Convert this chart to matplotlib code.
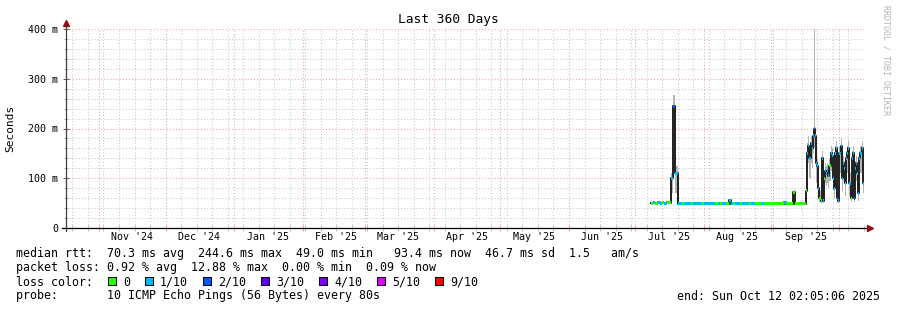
import datetime as dt
import numpy as np
import pandas as pd
import matplotlib
matplotlib.use('Agg')
import matplotlib.pyplot as plt
import matplotlib.dates as mdates
from matplotlib.ticker import MultipleLocator, FuncFormatter
from matplotlib.patches import Rectangle
from matplotlib.transforms import blended_transform_factory

#####################
# Data
#####################
start = dt.datetime(2024, 10, 17, 2, 5, 6)
end = dt.datetime(2025, 10, 12, 2, 5, 6)

# daily values Jul 8 .. Sep 15 2025 (ms)
days1 = pd.date_range('2025-07-08', periods=70, freq='D')
med1 = [50, 51, 50, 52, 50, 51, 50, 52, 51, 100, 245, 110, 49,
        49, 49, 49, 49.5, 49, 49, 49, 49, 49.5, 49, 49, 49, 49, 49, 49, 49.5, 49, 49, 49, 49, 49, 49,
        56,
        49, 49, 49, 49, 49.5, 49, 49, 49, 49, 49, 49, 49, 49, 49.5, 49, 49, 49, 49, 49, 49, 49, 49, 49, 49,
        52, 49, 49, 49, 72, 49, 49, 49, 49, 49]
hi1 = [51, 52, 51, 53, 51, 52, 51, 53, 52, 110, 267, 125, 50,
       50, 50, 50, 51, 50, 50, 50, 50, 51, 50, 50, 50, 50, 50, 50, 51, 50, 50, 50, 50, 50, 50,
       59,
       50, 50, 50, 50, 51, 50, 50, 50, 50, 50, 50, 50, 50, 51, 50, 50, 50, 50, 50, 50, 50, 50, 50, 50,
       54, 50, 50, 50, 76, 50, 50, 50, 50, 50]
lo1 = [49, 50, 49, 50, 49, 50, 49, 50, 50, 70, 180, 70, 48.5,
       48.5, 48.5, 48.5, 48.5, 48.5, 48.5, 48.5, 48.5, 48.5, 48.5, 48.5, 48.5, 48.5, 48.5, 48.5,
       48.5, 48.5, 48.5, 48.5, 48.5, 48.5, 48.5,
       52,
       48.5, 48.5, 48.5, 48.5, 48.5, 48.5, 48.5, 48.5, 48.5, 48.5, 48.5, 48.5, 48.5, 48.5, 48.5,
       48.5, 48.5, 48.5, 48.5, 48.5, 48.5, 48.5, 48.5, 48.5,
       50, 48.5, 48.5, 48.5, 60, 48.5, 48.5, 48.5, 48.5, 48.5]
loss1 = [0, 1, 0, 1, 1, 0, 1, 0, 0,
         1, 2, 1,
         1, 1, 0, 1, 1, 1, 0, 1, 1, 1, 1, 0, 1, 1, 1, 1, 1,
         0, 1, 0, 1, 1, 0, 1, 1, 0, 1, 1, 0, 1, 1, 1, 0,
         1, 1, 0, 0, 0, 1, 0, 0, 0, 0, 0, 0, 0, 0, 0, 1, 0, 0, 0, 0, 0, 0, 0, 0, 0]

# 12 hourly values Sep 16 .. Oct 12 2025 (ms)
days2 = pd.date_range('2025-09-16', periods=53, freq='12h')
med2 = [75, 150, 165, 140, 170, 160, 185, 200, 185, 130, 125, 80, 60, 55, 140, 55, 100, 115,
        110, 115, 105, 125, 150, 145, 100, 80, 150, 160, 60, 55, 150, 165, 100, 130, 120, 90,
        140, 150, 160, 90, 60, 140, 150, 60, 120, 130, 110, 70, 140, 150, 160, 90, 93.4]
hi2 = [95, 170, 185, 165, 185, 180, 200, 420, 200, 150, 140, 100, 75, 65, 155, 70, 115, 130,
       125, 130, 120, 140, 165, 160, 120, 100, 165, 175, 80, 70, 165, 180, 120, 145, 135, 110,
       155, 165, 175, 110, 80, 155, 165, 80, 135, 145, 130, 90, 155, 165, 175, 105, 100]
lo2 = [55, 110, 130, 100, 130, 120, 150, 160, 140, 90, 95, 60, 52, 50, 100, 50, 75, 90,
       85, 90, 80, 95, 115, 110, 75, 60, 110, 120, 52, 50, 110, 125, 75, 95, 90, 65,
       100, 110, 120, 65, 52, 100, 110, 52, 85, 95, 80, 55, 100, 110, 120, 70, 75]
loss2 = [0, 1, 1, 1, 1, 1, 1, 2, 1, 1, 1, 1, 0, 0, 1, 1, 0, 1, 1, 1, 1, 0, 1, 1, 1, 1, 1,
         1, 2, 1, 1, 1, 1, 1, 1, 1, 1, 1, 1, 1, 0, 1, 1, 2, 1, 1, 1, 1, 1, 1, 1, 1, 1]

loss_labels = ['0', '1/10', '2/10', '3/10', '4/10', '5/10', '9/10']
loss_colors = ['#26ff00', '#00b8ff', '#0059ff', '#5e00ff', '#7e00ff', '#dd00ff', '#ff0000']

stats_lines = [
    "median rtt:  70.3 ms avg  244.6 ms max  49.0 ms min   93.4 ms now  46.7 ms sd  1.5   am/s",
    "packet loss: 0.92 % avg  12.88 % max  0.00 % min  0.09 % now",
]
probe_text = "probe:       10 ICMP Echo Pings (56 Bytes) every 80s"
end_text = "end: Sun Oct 12 02:05:06 2025"

#####################
# Figure
#####################
W, H = 897, 310
mono = 'DejaVu Sans Mono'
fig = plt.figure(figsize=(W / 100, H / 100), dpi=100)
x0, x1, y0, y1 = 66, 864, 29, 228
ax = fig.add_axes([x0 / W, 1 - y1 / H, (x1 - x0) / W, (y1 - y0) / H])
for s in ax.spines.values():
    s.set_visible(False)

t = mdates.date2num(np.concatenate([days1.to_pydatetime(), days2.to_pydatetime()]))
edges = np.append(t, mdates.date2num(end))
med = np.array(med1 + med2, dtype=float)
hi = np.array(hi1 + hi2, dtype=float)
lo = np.array(lo1 + lo2, dtype=float)
loss = loss1 + loss2

ax.fill_between(edges, np.append(lo, lo[-1]), np.append(hi, hi[-1]), step='post',
                color='#b4b4b4', lw=0, zorder=2)
ax.step(edges, np.append(med, med[-1]), where='post', color='#202020', lw=1.4, zorder=3)
ax.bar(t, 6, bottom=med - 3, width=np.diff(edges), align='edge',
       color=[loss_colors[l] for l in loss], lw=0, zorder=4)

ax.set_xlim(mdates.date2num(start), mdates.date2num(end))
ax.set_ylim(0, 400)

# grid
ax.xaxis.set_major_locator(mdates.MonthLocator())
ax.xaxis.set_minor_locator(mdates.WeekdayLocator(byweekday=mdates.SU))
ax.yaxis.set_major_locator(MultipleLocator(100))
ax.yaxis.set_minor_locator(MultipleLocator(20))
ax.grid(which='minor', color='#c8c8c8', linestyle=(0, (1, 2)), lw=0.75, zorder=1)
ax.grid(which='major', color='#f0a0a0', linestyle=(0, (1, 2)), lw=0.75, zorder=1)
ax.set_axisbelow(True)

ax.tick_params(axis='x', which='major', direction='inout', length=5, width=0.75,
               color='#f0a0a0', labelbottom=False)
ax.tick_params(axis='x', which='minor', direction='inout', length=4, width=0.75,
               color='#c0c0c0')
ax.tick_params(axis='y', which='major', direction='inout', length=5, width=0.75,
               color='#606060', pad=3, labelsize=7.2)
ax.tick_params(axis='y', which='minor', direction='inout', length=3, width=0.75,
               color='#b0b0b0')
ax.yaxis.set_major_formatter(FuncFormatter(lambda v, p: '%d m' % v if v else '0'))
for lab in ax.get_yticklabels():
    lab.set_family(mono)

# month labels, centered half a month after each month start
trans = blended_transform_factory(ax.transData, ax.transAxes)
for m in pd.date_range('2024-10-01', '2025-10-01', freq='MS'):
    c = mdates.date2num(m.to_pydatetime() + dt.timedelta(days=15))
    if mdates.date2num(start) < c < mdates.date2num(end):
        ax.text(c, -9.5 / (y1 - y0), m.strftime("%b '%y"), transform=trans,
                ha='center', va='center', fontsize=7.2, family=mono)

# axis lines with arrows
ax.plot([-4 / 798, 1.005], [0, 0], transform=ax.transAxes, clip_on=False,
        color='black', lw=0.9, zorder=6)
ax.plot([0, 0], [-3 / 199, 1.03], transform=ax.transAxes, clip_on=False,
        color='#404040', lw=0.9, zorder=6)
ax.plot(1.008, 0, marker='>', ms=4, color='#8b1010', transform=ax.transAxes,
        clip_on=False, zorder=7)
ax.plot(0, 1.03, marker='^', ms=4, color='#8b1010', transform=ax.transAxes,
        clip_on=False, zorder=7)

#####################
# Texts
#####################
fig.text(448 / W, 1 - 19.5 / H, 'Last 360 Days', ha='center', va='center',
         fontsize=9.3, family=mono)
fig.text(10 / W, 1 - 128 / H, 'Seconds', rotation=90, ha='center', va='center',
         fontsize=8, family=mono)
fig.text(886 / W, 1 - 60 / H, 'RRDTOOL / TOBI OETIKER', rotation=270, ha='center',
         va='center', fontsize=6, family=mono, color='#b4b4b4')

fs = 8.37
fig.text(16 / W, 1 - 254 / H, stats_lines[0], va='center', fontsize=fs, family=mono)
fig.text(16 / W, 1 - 268 / H, stats_lines[1], va='center', fontsize=fs, family=mono)
fig.text(16 / W, 1 - 282 / H, 'loss color:', va='center', fontsize=fs, family=mono)
bx = 108
for lab, col in zip(loss_labels, loss_colors):
    fig.add_artist(Rectangle((bx / W, 1 - 285 / H), 8 / W, 8 / H, transform=fig.transFigure,
                             facecolor=col, edgecolor='black', lw=0.75))
    fig.text((bx + 15) / W, 1 - 282 / H, lab, va='center', fontsize=fs, family=mono)
    bx += 15 + 7 * len(lab) + 15
fig.text(16 / W, 1 - 296 / H, probe_text, va='center', fontsize=fs, family=mono)
fig.text(880 / W, 1 - 296 / H, end_text, ha='right', va='center', fontsize=fs, family=mono)

fig.savefig('out.png', dpi=100)
